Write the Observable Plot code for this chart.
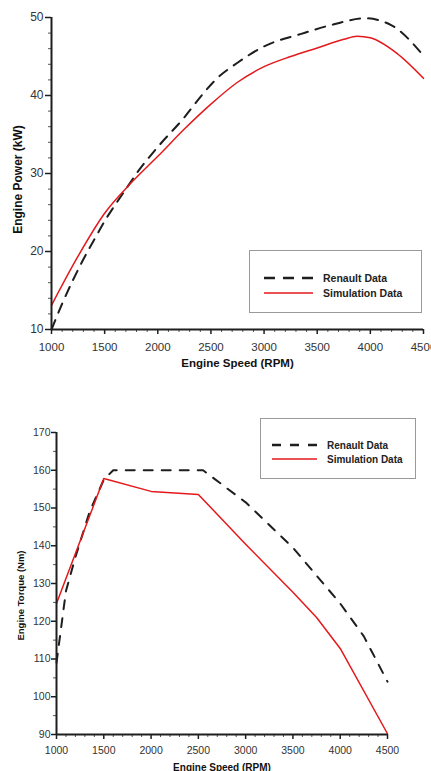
<!DOCTYPE html>
<html>
<head>
<meta charset="utf-8">
<script src="https://cdn.jsdelivr.net/npm/d3@7"></script>
<script src="https://cdn.jsdelivr.net/npm/@observablehq/plot@0.6"></script>
<style>
  html, body { margin: 0; padding: 0; background: #fff; }
  #wrap { position: relative; width: 431px; height: 771px; overflow: hidden; font-family: "Liberation Sans", Arial, sans-serif; }
  .chart { position: absolute; left: 0; }
  .legend { position: absolute; border: 1px solid #9a9a9a; background: #fff; box-sizing: border-box; }
  .legend .row { position: absolute; display: flex; align-items: center; font-weight: bold; color: #222; white-space: nowrap; }
  .legend svg { display: block; }
</style>
</head>
<body>
<div id="wrap"></div>
<script>
// ---------- Data ----------
const seriesNames = ["Renault Data", "Simulation Data"];

// Engine power (kW) vs engine speed (RPM)
const powerRpmRenault = [1000, 1100, 1300, 1430, 1500, 1600, 1700, 1800, 2000, 2250, 2400, 2550, 2750, 3000, 3350, 3650, 3950, 4200, 4500];
const powerRenault    = [10, 13.3, 19.0, 22.2, 23.9, 26.0, 28.0, 30.0, 33.4, 37.2, 39.8, 42.1, 44.2, 46.3, 47.9, 49.1, 49.9, 49.0, 45.1];
const powerRpmSim = [1000, 1250, 1500, 1750, 2000, 2250, 2500, 2750, 3000, 3250, 3500, 3750, 3875, 4000, 4250, 4500];
const powerSim    = [13.1, 19.4, 24.9, 28.8, 32.2, 35.7, 38.9, 41.7, 43.7, 45.0, 46.1, 47.2, 47.6, 47.4, 45.4, 42.2];

// Engine torque (Nm) vs engine speed (RPM)
const torqueRpmRenault = [1000, 1100, 1200, 1350, 1500, 1600, 2550, 3000, 3500, 4000, 4250, 4500];
const torqueRenault    = [109, 128, 137, 149, 157.5, 160, 160, 151.5, 139.5, 124.7, 116, 104];
const torqueRpmSim = [1000, 1500, 2000, 2500, 3000, 3500, 3750, 4000, 4500];
const torqueSim    = [124.7, 157.8, 154.4, 153.6, 140.4, 127.7, 121, 112.8, 90.2];

// Axis ticks
const rpmTicks = [1000, 1500, 2000, 2500, 3000, 3500, 4000, 4500];
const rpmMinor = d3.range(1000, 4501, 100).filter(v => v % 500 !== 0);
const powerTicks = [10, 20, 30, 40, 50];
const powerMinor = d3.range(10, 51, 2).filter(v => v % 10 !== 0);
const torqueTicks = [90, 100, 110, 120, 130, 140, 150, 160, 170];
const torqueMinor = d3.range(95, 170, 10);

const xTitle = "Engine Speed (RPM)";
const powerTitle = "Engine Power (kW)";
const torqueTitle = "Engine Torque (Nm)";

const RED = "#e3191c";
const DARK = "#1e1e1e";

const toRows = (xs, ys) => xs.map((x, i) => ({x, y: ys[i]}));

function makeChart(cfg) {
  return Plot.plot({
    width: 431,
    height: cfg.height,
    marginLeft: cfg.ml, marginRight: cfg.mr, marginTop: cfg.mt, marginBottom: cfg.mb,
    style: {fontFamily: "'Liberation Sans', Arial, sans-serif", color: "#333", background: "white", overflow: "visible"},
    x: {domain: [1000, 4500]},
    y: {domain: cfg.yDomain},
    marks: [
      Plot.line(toRows(cfg.rx, cfg.ry), {x: "x", y: "y", stroke: DARK, strokeWidth: 2, strokeDasharray: cfg.dash, curve: cfg.curve}),
      Plot.line(toRows(cfg.sx, cfg.sy), {x: "x", y: "y", stroke: RED, strokeWidth: 1.5, curve: cfg.curve}),
      // minor ticks
      Plot.axisX({ticks: rpmMinor, tickSize: 3, text: null, label: null, stroke: "#555"}),
      Plot.axisY({ticks: cfg.yMinor, tickSize: 3, text: null, label: null, stroke: "#555"}),
      // major ticks & labels
      Plot.axisX({ticks: rpmTicks, tickSize: 5, tickPadding: cfg.xPad, tickFormat: d => String(d), fontSize: cfg.xFont, label: null, stroke: DARK, strokeWidth: 1.5, fill: "#333"}),
      Plot.axisY({ticks: cfg.yTicks, tickSize: cfg.yTick, tickPadding: cfg.yPad, tickFormat: d => String(d), fontSize: cfg.yFont, label: null, stroke: DARK, strokeWidth: 1.5, fill: "#333"}),
      // axis lines
      Plot.ruleX([1000], {stroke: DARK, strokeWidth: 2}),
      Plot.ruleY([cfg.yDomain[0]], {stroke: DARK, strokeWidth: 2}),
      // axis titles
      Plot.text([xTitle], {frameAnchor: "bottom", dy: cfg.xTitleDy, text: d => d, fontWeight: "bold", fontSize: cfg.xTitleFont, fill: "#111", lineAnchor: "middle"}),
      Plot.text([cfg.yTitle], {frameAnchor: "left", dx: cfg.yTitleDx, dy: cfg.yTitleDy, rotate: -90, text: d => d, fontWeight: "bold", fontSize: cfg.yTitleFont, fill: "#111", textAnchor: "middle", lineAnchor: "middle"})
    ]
  });
}

function makeLegend(box, dash, font, lineW, textGap) {
  const lg = document.createElement("div");
  lg.className = "legend";
  Object.assign(lg.style, {left: box.left + "px", top: box.top + "px", width: box.w + "px", height: box.h + "px"});
  const items = [
    {name: seriesNames[0], stroke: DARK, width: 2.5, dash},
    {name: seriesNames[1], stroke: RED, width: 1.5, dash: null}
  ];
  items.forEach((it, i) => {
    const row = document.createElement("div");
    row.className = "row";
    Object.assign(row.style, {left: box.lineX + "px", top: (box.rowY[i] - 8) + "px", height: "16px", fontSize: font + "px"});
    const svg = d3.create("svg").attr("width", lineW).attr("height", 16).style("margin-right", textGap + "px");
    svg.append("line").attr("x1", 0).attr("x2", lineW).attr("y1", 8).attr("y2", 8)
      .attr("stroke", it.stroke).attr("stroke-width", it.width)
      .attr("stroke-dasharray", it.dash);
    row.appendChild(svg.node());
    const t = document.createElement("span");
    t.textContent = it.name;
    row.appendChild(t);
    lg.appendChild(row);
  });
  return lg;
}

const wrap = document.getElementById("wrap");

// Chart 1: power
const c1 = makeChart({
  height: 375, ml: 51, mr: 8, mt: 17, mb: 46,
  yDomain: [10, 50], yTicks: powerTicks, yMinor: powerMinor,
  rx: powerRpmRenault, ry: powerRenault, sx: powerRpmSim, sy: powerSim,
  dash: "10,8", curve: "monotone-x",
  xPad: 8, xFont: 11.5, yTick: 6, yPad: 2, yFont: 12,
  xTitleDy: 34, xTitleFont: 11.5,
  yTitle: powerTitle, yTitleDx: -33, yTitleDy: 6, yTitleFont: 12
});
const d1 = document.createElement("div");
d1.className = "chart"; d1.style.top = "0px";
d1.appendChild(c1);
wrap.appendChild(d1);

// Chart 2: torque
const c2 = makeChart({
  height: 396, ml: 56, mr: 44, mt: 57, mb: 37,
  yDomain: [90, 170], yTicks: torqueTicks, yMinor: torqueMinor,
  rx: torqueRpmRenault, ry: torqueRenault, sx: torqueRpmSim, sy: torqueSim,
  dash: "9,9", curve: "linear",
  xPad: 7, xFont: 10.5, yTick: 5, yPad: 1, yFont: 10.5,
  xTitleDy: 33, xTitleFont: 10,
  yTitle: torqueTitle, yTitleDx: -36, yTitleDy: 12, yTitleFont: 9.5
});
const d2 = document.createElement("div");
d2.className = "chart"; d2.style.top = "375px";
d2.appendChild(c2);
wrap.appendChild(d2);

// Legends
wrap.appendChild(makeLegend({left: 249, top: 250, w: 173, h: 63, lineX: 14, rowY: [27, 42]}, "11,8", 10.5, 49, 10));
wrap.appendChild(makeLegend({left: 260, top: 418, w: 156, h: 61, lineX: 11, rowY: [26, 40]}, "9,9", 10, 45, 10));
</script>
</body>
</html>
